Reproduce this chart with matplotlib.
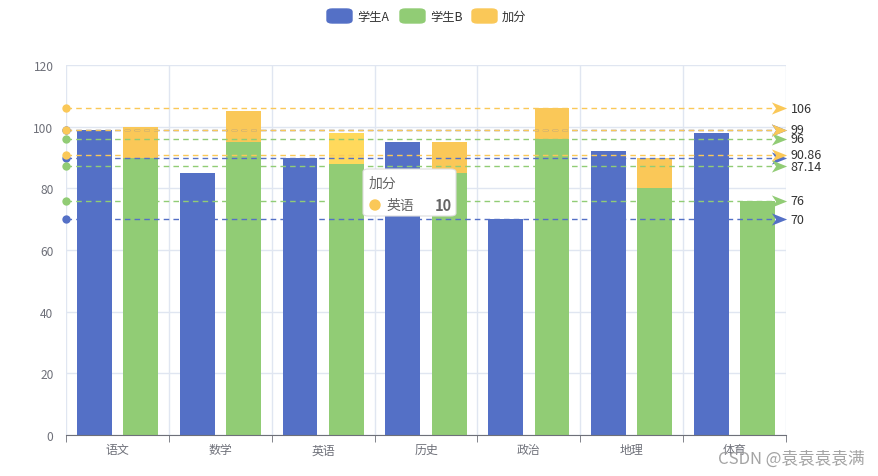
import numpy as np
import matplotlib
matplotlib.use('Agg')
import matplotlib.pyplot as plt
from matplotlib.path import Path
from matplotlib.patches import FancyBboxPatch, Ellipse

plt.rcParams['font.family'] = ['Noto Sans CJK SC', 'DejaVu Sans']

# data
subjects = ['语文', '数学', '英语', '历史', '政治', '地理', '体育']
score_a = [99, 85, 90, 95, 70, 92, 98]
score_b = [90, 95, 88, 85, 96, 80, 76]
bonus = [10, 10, 10, 10, 10, 10, 0]

# mark lines (max / avg / min)
mark_a = [max(score_a), round(np.mean(score_a), 2), min(score_a)]
mark_b = [max(score_b), round(np.mean(score_b), 2), min(score_b)]
mark_bonus = [106, 99, 90.86]

blue = '#5470c6'
green = '#91cc75'
yellow = '#fac858'
axis_col = '#6e7079'
grid_col = '#e0e6f1'

fig = plt.figure(figsize=(8.79, 4.77), dpi=100)
W, H = 879, 477
ax = fig.add_axes([66 / W, 1 - 436 / H, 720 / W, 370 / H])

x = np.arange(len(subjects))
bw = 0.34
off = 0.225

ax.bar(x - off, score_a, bw, color=blue, zorder=2)
ax.bar(x + off, score_b, bw, color=green, zorder=2)
bonus_cols = [yellow] * len(subjects)
bonus_cols[2] = '#ffd95c'  # hovered bar
ax.bar(x + off, bonus, bw, bottom=score_b, color=bonus_cols, zorder=2)

ax.set_xlim(-0.5, len(subjects) - 0.5)
ax.set_ylim(0, 120)
ax.set_yticks(np.arange(0, 121, 20))
ax.set_xticks(x)
ax.set_xticklabels(subjects)
ax.set_xticks(np.arange(-0.5, len(subjects), 1), minor=True)
ax.tick_params(axis='x', which='major', length=0, pad=6, labelsize=8.6, colors=axis_col)
ax.tick_params(axis='x', which='minor', length=5, color=axis_col, direction='out')
ax.tick_params(axis='y', length=0, pad=9, labelsize=8.6, colors=axis_col)

ax.grid(axis='y', color=grid_col, lw=1, zorder=0)
for b in np.arange(-0.5, len(subjects), 1):
    ax.axvline(b, color=grid_col, lw=1, zorder=0)
for s in ['top', 'right', 'left']:
    ax.spines[s].set_visible(False)
ax.spines['bottom'].set_color(axis_col)
ax.spines['bottom'].set_zorder(5)

# arrow marker, pointing right
arrow = Path([(1, 0), (-1, 0.8), (-0.45, 0), (-1, -0.8), (1, 0)],
             [Path.MOVETO, Path.LINETO, Path.LINETO, Path.LINETO, Path.CLOSEPOLY])

x0 = -0.5
x1 = len(subjects) - 0.5 - 0.065


def mark_line(v, col, label=True):
    ax.plot([x0, x1], [v, v], ls=(0, (4, 3)), color=col, lw=1, zorder=3, clip_on=False)
    ax.plot([x0], [v], 'o', ms=6, color=col, mec='none', zorder=4, clip_on=False)
    ax.plot([x1], [v], marker=arrow, ms=11, color=col, mec='none', zorder=4, clip_on=False)
    if label:
        ax.text(len(subjects) - 0.5 + 0.045, v, f'{v:g}', fontsize=9, color='#333333',
                va='center', ha='left', clip_on=False)


# blue max/avg labels are hidden behind the others in the reference
mark_line(mark_a[0], blue, False)
mark_line(mark_a[1], blue, False)
mark_line(mark_a[2], blue)
for v in mark_b:
    mark_line(v, green)
for v in mark_bonus:
    mark_line(v, yellow)

# legend
leg = [('学生A', blue, 327), ('学生B', green, 400), ('加分', yellow, 472)]
for name, col, lx in leg:
    fig.patches.append(FancyBboxPatch((lx / W, 1 - 24 / H), 25 / W, 14 / H,
                                      boxstyle='round,pad=0,rounding_size=0.006',
                                      transform=fig.transFigure, color=col))
    fig.text((lx + 30) / W, 1 - 17 / H, name, fontsize=8.8, color='#333333', va='center')

# tooltip
tip = FancyBboxPatch((363 / W, 1 - 217 / H), 93 / W, 47 / H,
                     boxstyle='round,pad=0,rounding_size=0.006', transform=fig.transFigure,
                     fc='white', ec='#dddddd', lw=0.8, zorder=10)
fig.patches.append(tip)
fig.text(369 / W, 1 - 184 / H, '加分', fontsize=10, color='#666666', va='center', zorder=11)
fig.patches.append(Ellipse((375 / W, 1 - 206 / H), 10 / W, 10 / H, transform=fig.transFigure,
                           color=yellow, zorder=11))
fig.text(386 / W, 1 - 206 / H, '英语', fontsize=10, color='#666666', va='center', zorder=11)
fig.text(452 / W, 1 - 206 / H, '10', fontsize=10.5, color='#666666', va='center',
         ha='right', weight='bold', zorder=11)

# watermark
fig.text(865 / W, 1 - 459 / H, 'CSDN @袁袁袁袁满', fontsize=12, color='#9a9a9a',
         alpha=0.9, ha='right', va='center')

fig.savefig('out.png', dpi=100)
